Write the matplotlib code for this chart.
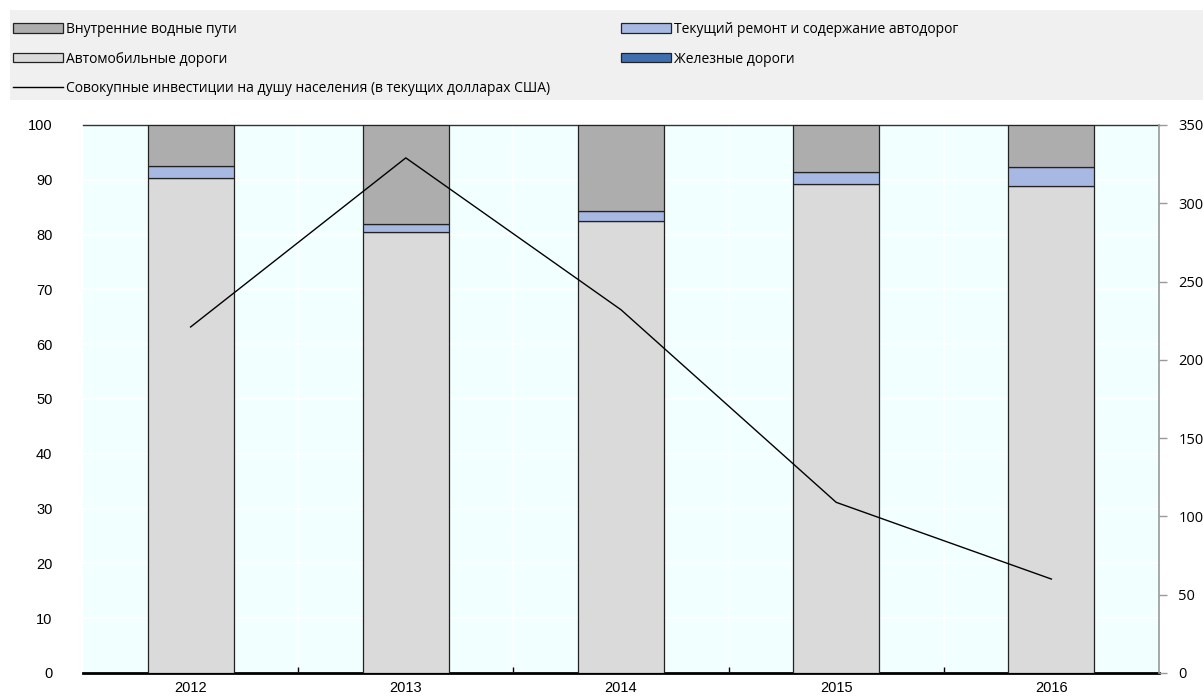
import matplotlib.pyplot as plt
from matplotlib.patches import Rectangle, Patch
from matplotlib.lines import Line2D

years = ['2012', '2013', '2014', '2015', '2016']
# shares of investment, %
railways = [0.0, 0.0, 0.0, 0.0, 0.0]
roads = [90.4, 80.5, 82.5, 89.2, 88.9]
maintenance = [2.1, 1.4, 1.8, 2.3, 3.4]
waterways = [7.5, 18.1, 15.7, 8.5, 7.7]
# total investment per capita, current USD
per_capita = [221, 329, 232, 109, 60]

c_water = '#ADADAD'
c_maint = '#A7B8E3'
c_roads = '#DADADA'
c_rail = '#3E6FB0'

fig = plt.figure(figsize=(12.03, 6.98), dpi=100)
ax = fig.add_axes([83 / 1203, 25 / 698, 1076 / 1203, 548 / 698])

# grey band behind the legend
fig.patches.append(Rectangle((10 / 1203, 598 / 698), 1193 / 1203, 90 / 698,
                             transform=fig.transFigure, facecolor='#F0F0F0',
                             edgecolor='none', zorder=0))

ax.set_facecolor('#F2FFFF')
x = list(range(len(years)))
w = 0.4
edge = dict(edgecolor='#222222', linewidth=0.9)

b2 = [r + m + mt for r, m, mt in zip(railways, roads, maintenance)]
ax.bar(x, railways, w, color=c_rail, zorder=3, **edge)
ax.bar(x, roads, w, bottom=railways, color=c_roads, zorder=3, **edge)
ax.bar(x, maintenance, w, bottom=[a + b for a, b in zip(railways, roads)],
       color=c_maint, zorder=3, **edge)
ax.bar(x, waterways, w, bottom=b2, color=c_water, zorder=3, **edge)

ax.set_xlim(-0.5, 4.5)
ax.set_ylim(0, 100)
ax.set_yticks(range(0, 101, 10))
ax.set_xticks(x)
ax.set_xticklabels(years)
ax.set_xticks([i + 0.5 for i in range(4)], minor=True)
ax.grid(axis='y', color='white', linewidth=1.2, zorder=1)
for i in range(4):
    ax.axvline(i + 0.5, color='white', linewidth=1.2, zorder=1)

ax.spines['left'].set_visible(False)
ax.spines['right'].set_visible(False)
ax.spines['bottom'].set_linewidth(2)
ax.spines['bottom'].set_color('black')
ax.spines['top'].set_color('#333333')
ax.spines['top'].set_linewidth(1)
ax.tick_params(axis='y', length=0, pad=22, labelsize=10.5)
ax.tick_params(axis='x', which='major', length=0, pad=6, labelsize=10.5)
ax.tick_params(axis='x', which='minor', direction='in', length=4, width=1)
for lab in ax.get_xticklabels() + ax.get_yticklabels():
    lab.set_fontfamily('Liberation Sans')

ax2 = ax.twinx()
ax2.plot(x, per_capita, color='black', linewidth=1, zorder=5)
ax2.set_ylim(0, 350)
ax2.set_yticks(range(0, 351, 50))
for s in ['left', 'top', 'bottom']:
    ax2.spines[s].set_visible(False)
ax2.spines['right'].set_color('#999999')
ax2.spines['right'].set_linewidth(1.2)
ax2.tick_params(axis='y', length=6, width=1, color='#999999', pad=8, labelsize=10.5)
for lab in ax2.get_yticklabels():
    lab.set_fontfamily('Open Sans')

leg_kw = dict(frameon=False, handlelength=3.6, handleheight=0.65, handletextpad=0.25,
              labelspacing=1.05, borderaxespad=0, borderpad=0,
              prop={'family': 'Open Sans', 'size': 10})

h_left = [Patch(facecolor=c_water, edgecolor='#222222', linewidth=0.9),
          Patch(facecolor=c_roads, edgecolor='#222222', linewidth=0.9),
          Line2D([0], [0], color='black', linewidth=1)]
l_left = ['Внутренние водные пути', 'Автомобильные дороги',
          'Совокупные инвестиции на душу населения (в текущих долларах США)']
fig.legend(h_left, l_left, loc='upper left',
           bbox_to_anchor=(13 / 1203, 1 - 22 / 698), **leg_kw)

h_right = [Patch(facecolor=c_maint, edgecolor='#222222', linewidth=0.9),
           Patch(facecolor=c_rail, edgecolor='#222222', linewidth=0.9)]
l_right = ['Текущий ремонт и содержание автодорог', 'Железные дороги']
fig.legend(h_right, l_right, loc='upper left',
           bbox_to_anchor=(621 / 1203, 1 - 22 / 698), **leg_kw)

plt.savefig('out.png', dpi=100)
